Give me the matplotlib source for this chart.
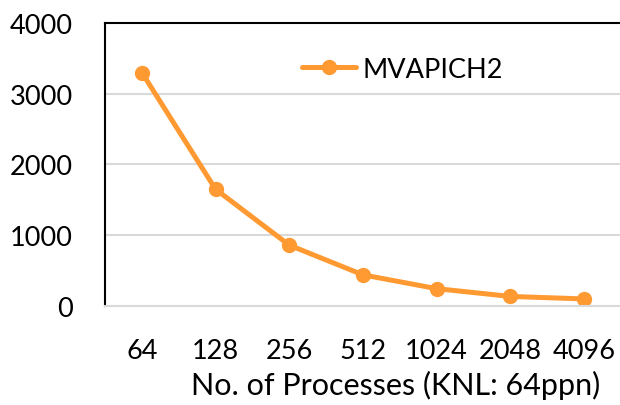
import matplotlib
matplotlib.use("Agg")
import matplotlib.pyplot as plt

plt.rcParams['font.family'] = ['Lato', 'DejaVu Sans']

# data
processes = ['64', '128', '256', '512', '1024', '2048', '4096']
mvapich2 = [3300, 1650, 860, 440, 245, 135, 100]
y_ticks = [0, 1000, 2000, 3000, 4000]

fig = plt.figure(figsize=(6.2, 4.06), dpi=100)
ax = fig.add_axes([105 / 620, 1 - 307 / 406, 516 / 620, 283 / 406])

x = range(len(processes))
ax.plot(x, mvapich2, color='#FF9A33', linewidth=3.6, marker='o',
        markersize=10, label='MVAPICH2', solid_capstyle='round')

ax.set_xlim(-0.5, len(processes) - 0.5)
ax.set_ylim(0, 4000)
ax.set_yticks(y_ticks)
ax.set_xticks(list(x))
ax.set_xticklabels(processes)
ax.tick_params(axis='both', length=0, labelsize=19.5)
ax.tick_params(axis='y', pad=23)
ax.tick_params(axis='x', pad=23)

# light gridlines
for v in [1000, 2000, 3000]:
    ax.axhline(v, color='#D9D9D9', linewidth=1.5, zorder=0)

ax.spines['right'].set_visible(False)
ax.spines['left'].set_color('black')
ax.spines['left'].set_linewidth(1.5)
ax.spines['top'].set_color('black')
ax.spines['top'].set_linewidth(1.5)
ax.spines['bottom'].set_color('#D9D9D9')
ax.spines['bottom'].set_linewidth(1.5)

ax.set_xlabel('No. of Processes (KNL: 64ppn)', fontsize=22, va='center')
ax.xaxis.set_label_coords((396 - 105) / 516, (307 - 385) / 283)

ax.legend(loc='center left', bbox_to_anchor=(302 / 620, 1 - 70 / 406),
          bbox_transform=fig.transFigure, frameon=False, fontsize=19.5,
          handlelength=2.0, handletextpad=0.25, borderpad=0, borderaxespad=0)

fig.savefig('out.png', dpi=100)
